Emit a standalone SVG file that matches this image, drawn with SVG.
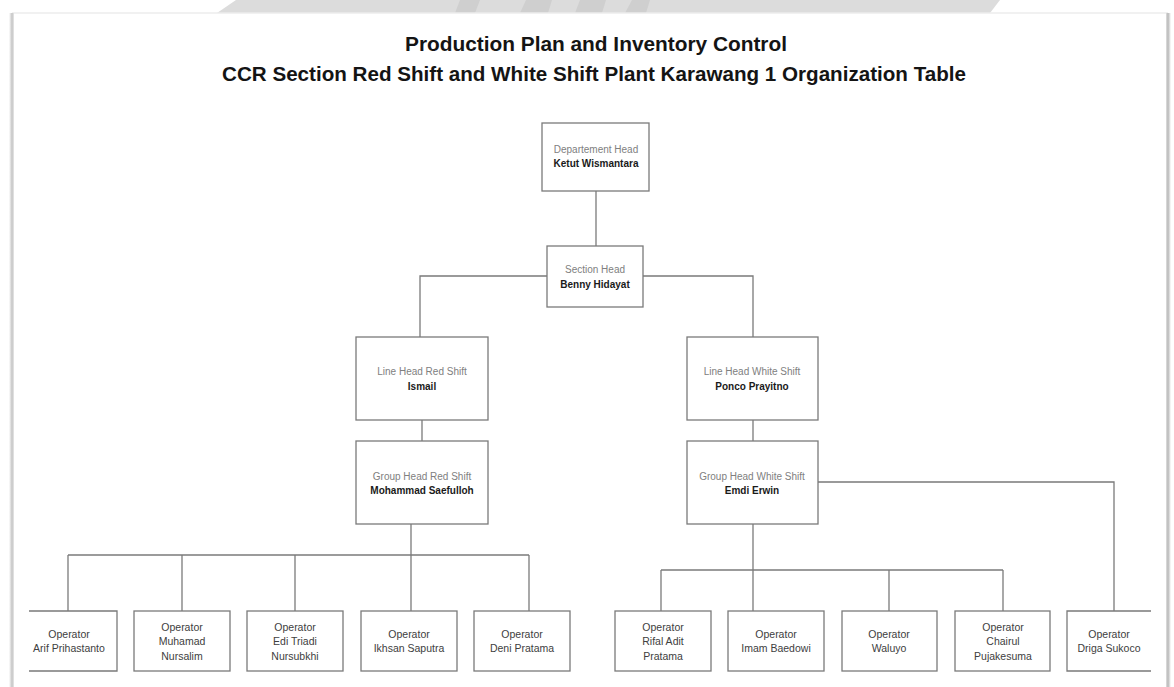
<svg xmlns="http://www.w3.org/2000/svg" width="1174" height="687" viewBox="0 0 1174 687">
  <style>
    .box { fill: #ffffff; stroke: #7a7a7a; stroke-width: 1.3; }
    .open { fill: none; stroke: #7a7a7a; stroke-width: 1.3; }
    .wire { fill: none; stroke: #7a7a7a; stroke-width: 1.3; }
    .title { font-family: "Liberation Sans", Arial, sans-serif; font-weight: bold; font-size: 20px; fill: #141414; text-anchor: middle; }
    .role { font-family: "Liberation Sans", Arial, sans-serif; font-size: 10px; fill: #808080; text-anchor: middle; }
    .name { font-family: "Liberation Sans", Arial, sans-serif; font-size: 10px; font-weight: bold; fill: #1a1a1a; text-anchor: middle; }
    .op { font-family: "Liberation Sans", Arial, sans-serif; font-size: 10.5px; fill: #404040; text-anchor: middle; }
  </style>
  <defs>
    <linearGradient id="shadeL" x1="0" y1="0" x2="1" y2="0">
      <stop offset="0" stop-color="#ffffff"/>
      <stop offset="0.6" stop-color="#c4c4c4"/>
      <stop offset="1" stop-color="#e8e8e8"/>
    </linearGradient>
    <linearGradient id="shadeR" x1="0" y1="0" x2="1" y2="0">
      <stop offset="0" stop-color="#e0e0e0"/>
      <stop offset="0.4" stop-color="#b8b8b8"/>
      <stop offset="1" stop-color="#ffffff"/>
    </linearGradient>
  </defs>

  <!-- page background and sheet edges -->
  <rect x="0" y="0" width="1174" height="687" fill="#ffffff"/>
  <g id="sheet">
    <path d="M217 13 L236 0 L1000 0 L990 13 Z" fill="#dcdcdc"/>
    <path d="M455 13 L460 0 L480 0 L475 13 Z M520 13 L526 0 L552 0 L548 13 Z M575 13 L580 0 L606 0 L602 13 Z M625 13 L632 0 L650 0 L646 13 Z" fill="#cfcfcf"/>
    <line x1="12" y1="13" x2="1168" y2="13" stroke="#ececec" stroke-width="1.5"/>
    <rect x="9" y="13" width="5" height="674" fill="url(#shadeL)"/>
    <rect x="1166" y="13" width="5" height="674" fill="url(#shadeR)"/>
  </g>

  <!-- heading -->
  <g id="heading">
    <text class="title" x="596" y="51" textLength="382" lengthAdjust="spacingAndGlyphs">Production Plan and Inventory Control</text>
    <text class="title" x="594" y="81" textLength="744" lengthAdjust="spacingAndGlyphs">CCR Section Red Shift and White Shift Plant Karawang 1 Organization Table</text>
  </g>

  <!-- connectors -->
  <g id="connectors">
    <path class="wire" d="M596 191 V246"/>
    <path class="wire" d="M547 276 H420 V337"/>
    <path class="wire" d="M643 276 H753 V337"/>
    <path class="wire" d="M422 420 V441"/>
    <path class="wire" d="M753 420 V441"/>
    <!-- red shift operators -->
    <path class="wire" d="M411 524 V611"/>
    <path class="wire" d="M68 555 H529"/>
    <path class="wire" d="M68 555 V611"/>
    <path class="wire" d="M182 555 V611"/>
    <path class="wire" d="M295 555 V611"/>
    <path class="wire" d="M529 555 V611"/>
    <!-- white shift operators -->
    <path class="wire" d="M753 524 V611"/>
    <path class="wire" d="M661 570 H1003"/>
    <path class="wire" d="M661 570 V611"/>
    <path class="wire" d="M889 570 V611"/>
    <path class="wire" d="M1003 570 V611"/>
    <path class="wire" d="M818 482 H1114 V611"/>
  </g>

  <g id="dept-head">
    <rect class="box" x="542" y="123" width="107" height="68"/>
    <text class="role" x="596" y="153">Departement Head</text>
    <text class="name" x="596" y="167">Ketut Wismantara</text>
  </g>

  <g id="section-head">
    <rect class="box" x="547" y="246" width="96" height="61"/>
    <text class="role" x="595" y="273">Section Head</text>
    <text class="name" x="595" y="288">Benny Hidayat</text>
  </g>

  <g id="line-head-red">
    <rect class="box" x="356" y="337" width="132" height="83"/>
    <text class="role" x="422" y="375">Line Head Red Shift</text>
    <text class="name" x="422" y="390">Ismail</text>
  </g>

  <g id="group-head-red">
    <rect class="box" x="356" y="441" width="132" height="83"/>
    <text class="role" x="422" y="480">Group Head Red Shift</text>
    <text class="name" x="422" y="494">Mohammad Saefulloh</text>
  </g>

  <g id="line-head-white">
    <rect class="box" x="687" y="337" width="131" height="83"/>
    <text class="role" x="752" y="375">Line Head White Shift</text>
    <text class="name" x="752" y="390">Ponco Prayitno</text>
  </g>

  <g id="group-head-white">
    <rect class="box" x="687" y="441" width="131" height="83"/>
    <text class="role" x="752" y="480">Group Head White Shift</text>
    <text class="name" x="752" y="494">Emdi Erwin</text>
  </g>

  <!-- red shift operators -->
  <g id="op-arif">
    <path class="open" d="M29 611 H117 V671 H29"/>
    <text class="op" x="69" y="638">Operator</text>
    <text class="op" x="69" y="652">Arif Prihastanto</text>
  </g>
  <g id="op-muhamad">
    <rect class="box" x="134" y="611" width="96" height="60"/>
    <text class="op" x="182" y="631">Operator</text>
    <text class="op" x="182" y="645">Muhamad</text>
    <text class="op" x="182" y="660">Nursalim</text>
  </g>
  <g id="op-edi">
    <rect class="box" x="247" y="611" width="96" height="60"/>
    <text class="op" x="295" y="631">Operator</text>
    <text class="op" x="295" y="645">Edi Triadi</text>
    <text class="op" x="295" y="660">Nursubkhi</text>
  </g>
  <g id="op-ikhsan">
    <rect class="box" x="361" y="611" width="96" height="60"/>
    <text class="op" x="409" y="638">Operator</text>
    <text class="op" x="409" y="652">Ikhsan Saputra</text>
  </g>
  <g id="op-deni">
    <rect class="box" x="474" y="611" width="96" height="60"/>
    <text class="op" x="522" y="638">Operator</text>
    <text class="op" x="522" y="652">Deni Pratama</text>
  </g>

  <!-- white shift operators -->
  <g id="op-rifal">
    <rect class="box" x="615" y="611" width="96" height="60"/>
    <text class="op" x="663" y="631">Operator</text>
    <text class="op" x="663" y="645">Rifal Adit</text>
    <text class="op" x="663" y="660">Pratama</text>
  </g>
  <g id="op-imam">
    <rect class="box" x="728" y="611" width="96" height="60"/>
    <text class="op" x="776" y="638">Operator</text>
    <text class="op" x="776" y="652">Imam Baedowi</text>
  </g>
  <g id="op-waluyo">
    <rect class="box" x="842" y="611" width="95" height="60"/>
    <text class="op" x="889" y="638">Operator</text>
    <text class="op" x="889" y="652">Waluyo</text>
  </g>
  <g id="op-chairul">
    <rect class="box" x="955" y="611" width="95" height="60"/>
    <text class="op" x="1003" y="631">Operator</text>
    <text class="op" x="1003" y="645">Chairul</text>
    <text class="op" x="1003" y="660">Pujakesuma</text>
  </g>
  <g id="op-driga">
    <path class="open" d="M1151 611 H1067 V671 H1151"/>
    <text class="op" x="1109" y="638">Operator</text>
    <text class="op" x="1109" y="652">Driga Sukoco</text>
  </g>
</svg>
